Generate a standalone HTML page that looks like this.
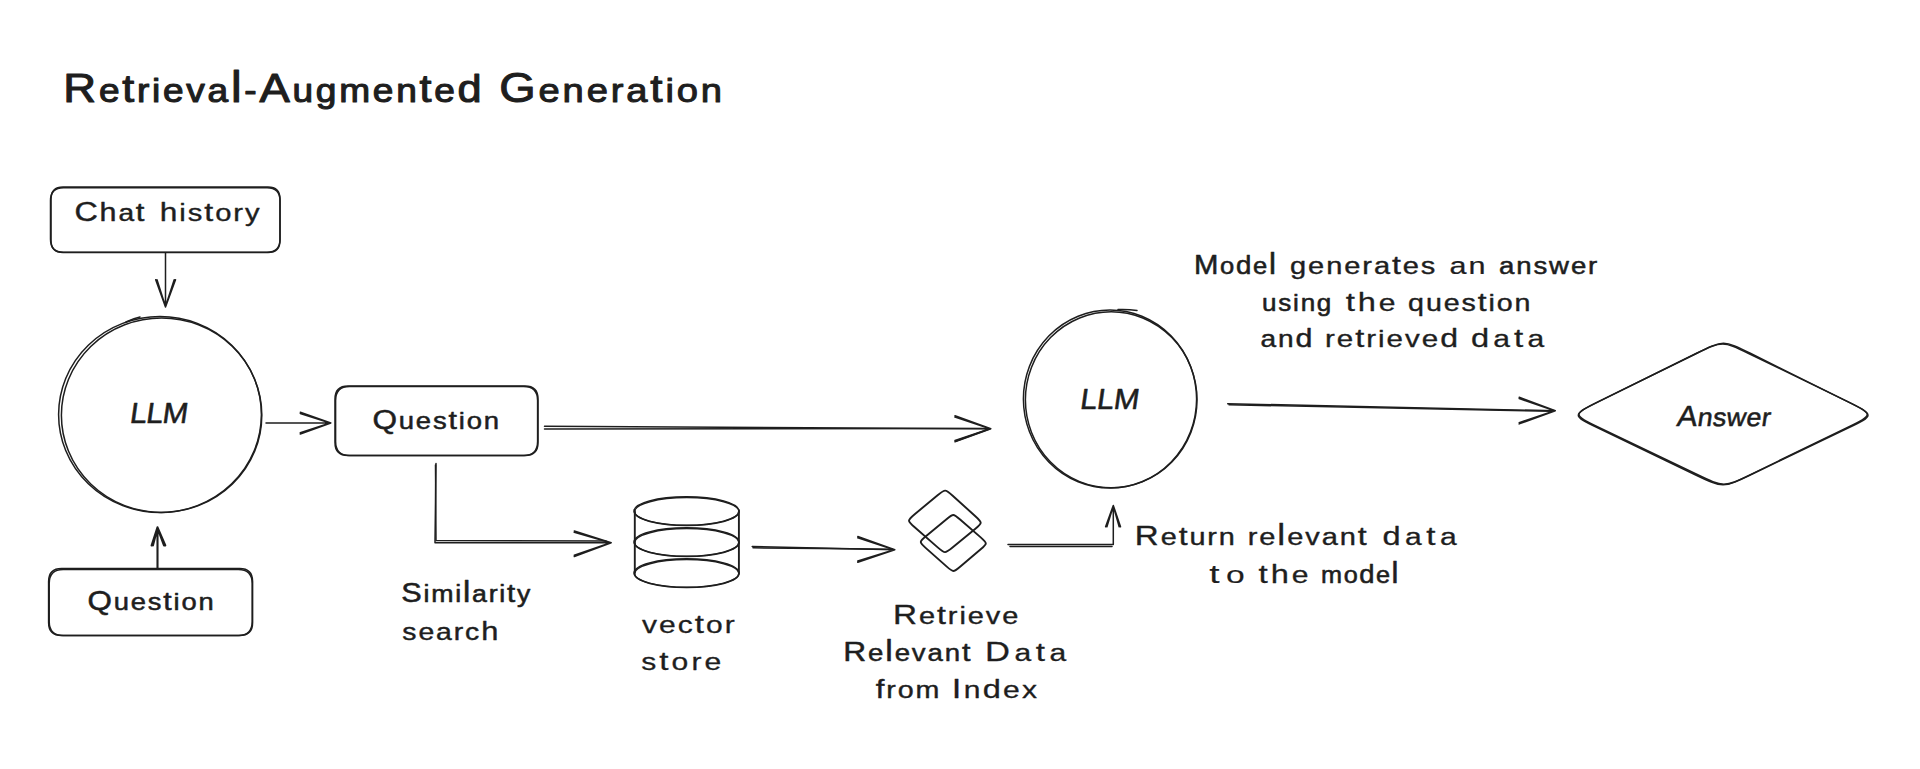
<!DOCTYPE html>
<html><head><meta charset="utf-8"><title>Retrieval-Augmented Generation</title>
<style>
html,body{margin:0;padding:0;background:#ffffff;width:1920px;height:769px;overflow:hidden}
svg{display:block}
text{font-family:"Liberation Sans",sans-serif;fill:#1e1e1e;stroke:#1e1e1e;stroke-linejoin:round}
</style></head><body>
<svg width="1920" height="769" viewBox="0 0 1920 769">
<g fill="none" stroke="#1e1e1e" stroke-width="1.5" stroke-linecap="round" stroke-linejoin="round">
<path d="M63.0 187.0 H268.0 Q280.0 187.0 280.0 199.0 V240.5 Q280.0 252.5 268.0 252.5 H63.0 Q51.0 252.5 51.0 240.5 V199.0 Q51.0 187.0 63.0 187.0 Z"/>
<path d="M63.5 187.8 H267.0 Q280.0 187.8 280.0 200.8 V239.3 Q280.0 252.3 267.0 252.3 H63.5 Q50.5 252.3 50.5 239.3 V200.8 Q50.5 187.8 63.5 187.8 Z"/>
<path d="M165.5 253.0 L165.5 307.0 M155.7 279.7 L165.5 307.0 L175.5 279.7 M157.0 279.7 L165.5 306.4 L174.2 279.7"/>
<path d="M58.6 414.5 A101.4 98.0 0 1 0 261.4 414.5 A101.4 98.0 0 1 0 58.6 414.5 Z"/>
<path d="M61.4 415.2 A100.2 97.2 0 1 0 261.8 415.2 A100.2 97.2 0 1 0 61.4 415.2 Z"/>
<path d="M126 322 Q133 318.5 140 317"/>
<path d="M266.0 423.0 L330.8 423.0 M300.3 412.2 L330.8 423.0 L300.3 434.0 M300.3 413.5 L330.2 423.0 L300.3 432.7"/>
<path d="M348.0 386.0 H525.0 Q538.0 386.0 538.0 399.0 V442.5 Q538.0 455.5 525.0 455.5 H348.0 Q335.0 455.5 335.0 442.5 V399.0 Q335.0 386.0 348.0 386.0 Z"/>
<path d="M349.6 386.6 H523.6 Q537.6 386.6 537.6 400.6 V441.6 Q537.6 455.6 523.6 455.6 H349.6 Q335.6 455.6 335.6 441.6 V400.6 Q335.6 386.6 349.6 386.6 Z"/>
<path d="M544.5 426.3 L990.8 428.8 M955.0 415.8 L990.8 428.8 L955.0 441.8 M955.0 417.1 L990.2 428.8 L955.0 440.5"/>
<path d="M544.5 429 L985 428.6 M956 441 L990 428.8"/>
<path d="M436.0 463.6 L435.0 542.8 L611.2 542.8 M574.3 531.0 L611.2 542.8 L574.3 556.5 M574.3 532.3 L610.6 542.8 L574.3 555.2"/>
<path d="M435.5 465 L436 540.5 L606 541"/>
<path d="M61.6 568.6 H239.6 Q252.6 568.6 252.6 581.6 V622.6 Q252.6 635.6 239.6 635.6 H61.6 Q48.6 635.6 48.6 622.6 V581.6 Q48.6 568.6 61.6 568.6 Z"/>
<path d="M63.2 569.4 H238.2 Q252.2 569.4 252.2 583.4 V621.4 Q252.2 635.4 238.2 635.4 H63.2 Q49.2 635.4 49.2 621.4 V583.4 Q49.2 569.4 63.2 569.4 Z"/>
<path stroke-width="2.1" d="M157.5 568.0 L157.5 527.3 M151.6 545.5 L157.5 527.3 L165.3 545.5 M152.9 545.5 L157.5 527.9 L164.0 545.5"/>
<path d="M634.0 511.0 A52.5 14.3 0 1 0 739.0 511.0 A52.5 14.3 0 1 0 634.0 511.0 Z"/>
<path d="M634.6 511.6 A52.2 14.0 0 1 0 739.0 511.6 A52.2 14.0 0 1 0 634.6 511.6 Z"/>
<path d="M634.0 542.0 A52.5 14.3 0 1 0 739.0 542.0 A52.5 14.3 0 1 0 634.0 542.0 Z"/>
<path d="M634.6 542.6 A52.2 14.0 0 1 0 739.0 542.6 A52.2 14.0 0 1 0 634.6 542.6 Z"/>
<path d="M634.0 573.0 A52.5 14.3 0 1 0 739.0 573.0 A52.5 14.3 0 1 0 634.0 573.0 Z"/>
<path d="M634.6 573.6 A52.2 14.0 0 1 0 739.0 573.6 A52.2 14.0 0 1 0 634.6 573.6 Z"/>
<path stroke-width="1.9" d="M634.8 511 L634.8 573 M738.9 511 L738.9 573"/>
<path d="M752.2 546.4 L894.8 549.7 M857.8 536.5 L894.8 549.7 L857.8 562.3 M857.8 537.8 L894.2 549.7 L857.8 561.0"/>
<path d="M753 547.8 L820 548.6 L890 549.2"/>
<path stroke-width="1.9" d="M937.6 495.3 C945.2 489.0 945.2 489.0 952.7 495.7 L975.1 516.0 C982.6 522.8 982.6 522.8 975.1 529.0 L952.5 547.5 C945.0 553.7 945.0 553.7 937.4 547.1 L914.7 527.2 C907.1 520.6 907.1 520.6 914.7 514.2 Z"/>
<path stroke-width="1.9" d="M946.5 519.2 C953.3 513.5 953.3 513.5 960.1 519.5 L980.7 537.4 C987.5 543.4 987.5 543.4 980.7 549.2 L960.1 566.7 C953.3 572.5 953.3 572.5 946.5 566.4 L925.9 548.1 C919.1 541.9 919.1 541.9 925.9 536.3 Z"/>
<path d="M1008.0 544.6 L1113.3 544.6 L1113.3 505.4 M1105.6 526.7 L1113.3 505.4 L1120.5 526.7 M1106.9 526.7 L1113.3 506.0 L1119.2 526.7"/>
<path d="M1010 546.5 L1112 546.5"/>
<path d="M1023.4 399.0 A86.6 89.0 0 1 0 1196.6 399.0 A86.6 89.0 0 1 0 1023.4 399.0 Z"/>
<path d="M1025.4 399.8 A85.8 88.0 0 1 0 1197.0 399.8 A85.8 88.0 0 1 0 1025.4 399.8 Z"/>
<path d="M1118 309.6 Q1128 309.2 1137 310.5"/>
<path d="M1227.7 403.7 L1555.3 410.8 M1519.2 397.3 L1555.3 410.8 L1519.2 423.9 M1519.2 398.6 L1554.7 410.8 L1519.2 422.6"/>
<path d="M1229 404.8 L1500 410.2 L1552 411.2"/>
<path d="M1598.7 428.3 C1571.5 415.2 1571.5 415.2 1598.8 401.6 L1696.1 353.5 C1723.5 339.9 1723.5 339.9 1750.8 353.5 L1847.6 401.6 C1874.8 415.2 1874.8 415.2 1847.5 428.3 L1750.3 475.0 C1723.0 488.1 1723.0 488.1 1695.7 475.0 Z"/>
<path d="M1599.5 427.7 C1572.2 414.5 1572.2 414.5 1599.3 401.2 L1695.4 354.0 C1722.5 340.7 1722.5 340.7 1749.7 354.0 L1846.7 401.2 C1874.0 414.5 1874.0 414.5 1847.0 427.7 L1751.0 474.3 C1724.0 487.5 1724.0 487.5 1696.7 474.3 Z"/>
</g>
<g>
<text transform="translate(63.33 102.00) scale(1.0935 1)" stroke-width="1.12" letter-spacing="2.50"><tspan font-size="41.57">R</tspan><tspan font-size="33.90">e</tspan><tspan font-size="39.24">t</tspan><tspan font-size="33.90">r</tspan><tspan font-size="33.90">i</tspan><tspan font-size="33.90">e</tspan><tspan font-size="33.90">v</tspan><tspan font-size="33.90">a</tspan><tspan font-size="43.76">l</tspan><tspan font-size="33.90">-</tspan><tspan font-size="41.57">A</tspan><tspan font-size="33.90">u</tspan><tspan font-size="33.90">g</tspan><tspan font-size="33.90">m</tspan><tspan font-size="33.90">e</tspan><tspan font-size="33.90">n</tspan><tspan font-size="39.24">t</tspan><tspan font-size="33.90">e</tspan><tspan font-size="39.64">d</tspan></text>
<text transform="translate(499.30 102.00) scale(1.1261 1)" stroke-width="1.00" letter-spacing="2.50"><tspan font-size="41.57">G</tspan><tspan font-size="33.90">e</tspan><tspan font-size="33.90">n</tspan><tspan font-size="33.90">e</tspan><tspan font-size="33.90">r</tspan><tspan font-size="33.90">a</tspan><tspan font-size="39.24">t</tspan><tspan font-size="33.90">i</tspan><tspan font-size="33.90">o</tspan><tspan font-size="33.90">n</tspan></text>
<text transform="translate(74.42 220.80) scale(1.1678 1)" stroke-width="0.46" letter-spacing="1.60"><tspan font-size="27.62">C</tspan><tspan font-size="26.06">h</tspan><tspan font-size="24.05">a</tspan><tspan font-size="26.52">t</tspan></text>
<text transform="translate(159.76 220.80) scale(1.2139 1)" stroke-width="0.36" letter-spacing="1.60"><tspan font-size="26.06">h</tspan><tspan font-size="24.05">i</tspan><tspan font-size="24.05">s</tspan><tspan font-size="26.52">t</tspan><tspan font-size="24.05">o</tspan><tspan font-size="24.05">r</tspan><tspan font-size="24.05">y</tspan></text>
<text transform="translate(129.06 423.30) skewX(-8) scale(1.0500 1)" stroke-width="0.55" letter-spacing="-0.67"><tspan font-size="29.00">L</tspan><tspan font-size="29.00">L</tspan><tspan font-size="29.00">M</tspan></text>
<text transform="translate(372.40 428.90) scale(1.1421 1)" stroke-width="0.52" letter-spacing="1.60"><tspan font-size="27.62">Q</tspan><tspan font-size="24.05">u</tspan><tspan font-size="24.05">e</tspan><tspan font-size="24.05">s</tspan><tspan font-size="26.52">t</tspan><tspan font-size="24.05">i</tspan><tspan font-size="24.05">o</tspan><tspan font-size="24.05">n</tspan></text>
<text transform="translate(87.46 610.20) scale(1.1370 1)" stroke-width="0.53" letter-spacing="1.60"><tspan font-size="27.62">Q</tspan><tspan font-size="24.05">u</tspan><tspan font-size="24.05">e</tspan><tspan font-size="24.05">s</tspan><tspan font-size="26.52">t</tspan><tspan font-size="24.05">i</tspan><tspan font-size="24.05">o</tspan><tspan font-size="24.05">n</tspan></text>
<text transform="translate(401.22 601.50) scale(1.1113 1)" stroke-width="0.57" letter-spacing="1.60"><tspan font-size="27.62">S</tspan><tspan font-size="24.05">i</tspan><tspan font-size="24.05">m</tspan><tspan font-size="24.05">i</tspan><tspan font-size="29.49">l</tspan><tspan font-size="24.05">a</tspan><tspan font-size="24.05">r</tspan><tspan font-size="24.05">i</tspan><tspan font-size="26.52">t</tspan><tspan font-size="24.05">y</tspan></text>
<text transform="translate(402.31 639.80) scale(1.1802 1)" stroke-width="0.43" letter-spacing="1.60"><tspan font-size="24.05">s</tspan><tspan font-size="24.05">e</tspan><tspan font-size="24.05">a</tspan><tspan font-size="24.05">r</tspan><tspan font-size="24.05">c</tspan><tspan font-size="26.06">h</tspan></text>
<text transform="translate(642.10 633.10) scale(1.2486 1)" stroke-width="0.29" letter-spacing="1.60"><tspan font-size="24.05">v</tspan><tspan font-size="24.05">e</tspan><tspan font-size="24.05">c</tspan><tspan font-size="26.52">t</tspan><tspan font-size="24.05">o</tspan><tspan font-size="24.05">r</tspan></text>
<text transform="translate(641.25 669.50) scale(1.2500 1)" stroke-width="0.29" letter-spacing="2.44"><tspan font-size="24.05">s</tspan><tspan font-size="26.52">t</tspan><tspan font-size="24.05">o</tspan><tspan font-size="24.05">r</tspan><tspan font-size="24.05">e</tspan></text>
<text transform="translate(893.10 623.60) scale(1.2034 1)" stroke-width="0.38" letter-spacing="1.60"><tspan font-size="27.62">R</tspan><tspan font-size="24.05">e</tspan><tspan font-size="26.52">t</tspan><tspan font-size="24.05">r</tspan><tspan font-size="24.05">i</tspan><tspan font-size="24.05">e</tspan><tspan font-size="24.05">v</tspan><tspan font-size="24.05">e</tspan></text>
<text transform="translate(843.32 661.00) scale(1.1488 1)" stroke-width="0.50" letter-spacing="1.60"><tspan font-size="27.62">R</tspan><tspan font-size="24.05">e</tspan><tspan font-size="29.49">l</tspan><tspan font-size="24.05">e</tspan><tspan font-size="24.05">v</tspan><tspan font-size="24.05">a</tspan><tspan font-size="24.05">n</tspan><tspan font-size="26.52">t</tspan></text>
<text transform="translate(985.10 661.00) scale(1.2500 1)" stroke-width="0.29" letter-spacing="3.61"><tspan font-size="27.62">D</tspan><tspan font-size="24.05">a</tspan><tspan font-size="26.52">t</tspan><tspan font-size="24.05">a</tspan></text>
<text transform="translate(875.77 697.70) scale(1.1907 1)" stroke-width="0.41" letter-spacing="1.60"><tspan font-size="26.06">f</tspan><tspan font-size="24.05">r</tspan><tspan font-size="24.05">o</tspan><tspan font-size="24.05">m</tspan></text>
<text transform="translate(951.80 697.70) scale(1.2500 1)" stroke-width="0.29" letter-spacing="1.80"><tspan font-size="27.62">I</tspan><tspan font-size="24.05">n</tspan><tspan font-size="26.06">d</tspan><tspan font-size="24.05">e</tspan><tspan font-size="24.05">x</tspan></text>
<text transform="translate(1079.26 409.20) skewX(-8) scale(1.0500 1)" stroke-width="0.55" letter-spacing="-0.20"><tspan font-size="29.00">L</tspan><tspan font-size="29.00">L</tspan><tspan font-size="29.00">M</tspan></text>
<text transform="translate(1193.91 274.40) scale(1.0616 1)" stroke-width="0.57" letter-spacing="1.60"><tspan font-size="27.62">M</tspan><tspan font-size="24.05">o</tspan><tspan font-size="26.06">d</tspan><tspan font-size="24.05">e</tspan><tspan font-size="29.49">l</tspan></text>
<text transform="translate(1290.04 274.40) scale(1.2066 1)" stroke-width="0.38" letter-spacing="1.60"><tspan font-size="24.05">g</tspan><tspan font-size="24.05">e</tspan><tspan font-size="24.05">n</tspan><tspan font-size="24.05">e</tspan><tspan font-size="24.05">r</tspan><tspan font-size="24.05">a</tspan><tspan font-size="26.52">t</tspan><tspan font-size="24.05">e</tspan><tspan font-size="24.05">s</tspan></text>
<text transform="translate(1449.58 274.40) scale(1.2713 1)" stroke-width="0.25" letter-spacing="1.60"><tspan font-size="24.05">a</tspan><tspan font-size="24.05">n</tspan></text>
<text transform="translate(1499.10 274.40) scale(1.1473 1)" stroke-width="0.51" letter-spacing="1.60"><tspan font-size="24.05">a</tspan><tspan font-size="24.05">n</tspan><tspan font-size="24.05">s</tspan><tspan font-size="24.05">w</tspan><tspan font-size="24.05">e</tspan><tspan font-size="24.05">r</tspan></text>
<text transform="translate(1262.12 311.00) scale(1.0839 1)" stroke-width="0.57" letter-spacing="1.60"><tspan font-size="24.05">u</tspan><tspan font-size="24.05">s</tspan><tspan font-size="24.05">i</tspan><tspan font-size="24.05">n</tspan><tspan font-size="24.05">g</tspan></text>
<text transform="translate(1345.75 311.00) scale(1.2500 1)" stroke-width="0.29" letter-spacing="2.26"><tspan font-size="26.52">t</tspan><tspan font-size="26.06">h</tspan><tspan font-size="24.05">e</tspan></text>
<text transform="translate(1408.06 311.00) scale(1.1906 1)" stroke-width="0.41" letter-spacing="1.60"><tspan font-size="24.05">q</tspan><tspan font-size="24.05">u</tspan><tspan font-size="24.05">e</tspan><tspan font-size="24.05">s</tspan><tspan font-size="26.52">t</tspan><tspan font-size="24.05">i</tspan><tspan font-size="24.05">o</tspan><tspan font-size="24.05">n</tspan></text>
<text transform="translate(1260.48 346.60) scale(1.1675 1)" stroke-width="0.46" letter-spacing="1.60"><tspan font-size="24.05">a</tspan><tspan font-size="24.05">n</tspan><tspan font-size="26.06">d</tspan></text>
<text transform="translate(1324.98 346.60) scale(1.2290 1)" stroke-width="0.33" letter-spacing="1.60"><tspan font-size="24.05">r</tspan><tspan font-size="24.05">e</tspan><tspan font-size="26.52">t</tspan><tspan font-size="24.05">r</tspan><tspan font-size="24.05">i</tspan><tspan font-size="24.05">e</tspan><tspan font-size="24.05">v</tspan><tspan font-size="24.05">e</tspan><tspan font-size="26.06">d</tspan></text>
<text transform="translate(1471.00 346.60) scale(1.2500 1)" stroke-width="0.29" letter-spacing="3.31"><tspan font-size="26.06">d</tspan><tspan font-size="24.05">a</tspan><tspan font-size="26.52">t</tspan><tspan font-size="24.05">a</tspan></text>
<text transform="translate(1675.98 425.60) skewX(-8) scale(1.0500 1)" stroke-width="0.55" letter-spacing="0.41"><tspan font-size="29.00">A</tspan><tspan font-size="25.47">n</tspan><tspan font-size="25.47">s</tspan><tspan font-size="25.47">w</tspan><tspan font-size="25.47">e</tspan><tspan font-size="25.47">r</tspan></text>
<text transform="translate(1134.86 544.70) scale(1.1986 1)" stroke-width="0.39" letter-spacing="1.60"><tspan font-size="27.62">R</tspan><tspan font-size="24.05">e</tspan><tspan font-size="26.52">t</tspan><tspan font-size="24.05">u</tspan><tspan font-size="24.05">r</tspan><tspan font-size="24.05">n</tspan></text>
<text transform="translate(1247.72 544.70) scale(1.2056 1)" stroke-width="0.38" letter-spacing="1.60"><tspan font-size="24.05">r</tspan><tspan font-size="24.05">e</tspan><tspan font-size="29.49">l</tspan><tspan font-size="24.05">e</tspan><tspan font-size="24.05">v</tspan><tspan font-size="24.05">a</tspan><tspan font-size="24.05">n</tspan><tspan font-size="26.52">t</tspan></text>
<text transform="translate(1382.40 544.70) scale(1.2500 1)" stroke-width="0.29" letter-spacing="3.63"><tspan font-size="26.06">d</tspan><tspan font-size="24.05">a</tspan><tspan font-size="26.52">t</tspan><tspan font-size="24.05">a</tspan></text>
<text transform="translate(1209.29 583.10) scale(1.4000 1)" stroke-width="0.15" letter-spacing="4.64"><tspan font-size="26.52">t</tspan><tspan font-size="24.05">o</tspan></text>
<text transform="translate(1258.50 583.10) scale(1.2500 1)" stroke-width="0.29" letter-spacing="2.40"><tspan font-size="26.52">t</tspan><tspan font-size="26.06">h</tspan><tspan font-size="24.05">e</tspan></text>
<text transform="translate(1321.07 583.10) scale(1.0500 1)" stroke-width="0.57" letter-spacing="1.47"><tspan font-size="24.05">m</tspan><tspan font-size="24.05">o</tspan><tspan font-size="26.06">d</tspan><tspan font-size="24.05">e</tspan><tspan font-size="29.49">l</tspan></text>
</g>
</svg>
</body></html>
